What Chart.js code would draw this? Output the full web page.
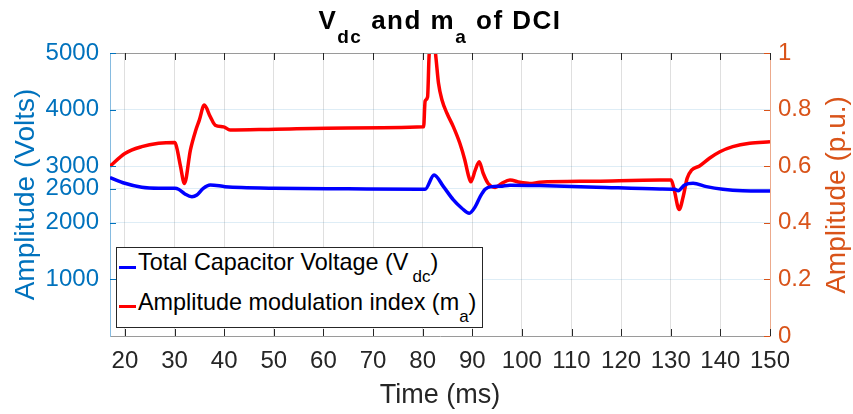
<!DOCTYPE html>
<html lang="en">

<head>
    <meta charset="UTF-8">
    <title>Vdc and ma of DCI</title>
    <script src="https://cdn.jsdelivr.net/npm/chart.js"></script>
    <style>
        body {
            margin: 0;
            background: #fff;
            font-family: "Liberation Sans", Arial, sans-serif;
        }

        .wrap {
            position: relative;
            width: 853px;
            height: 414px;
            overflow: hidden;
        }

        #chart {
            position: absolute;
            left: 0;
            top: 0;
        }

        .title {
            position: absolute;
            left: 110px;
            width: 660px;
            top: 7px;
            text-align: center;
            font-size: 26px;
            line-height: 26px;
            font-weight: bold;
            letter-spacing: 1.5px;
            color: #000;
            white-space: nowrap;
        }

        .title .sub {
            position: relative;
            top: 14px;
            font-size: 19px;
        }

        .ylab-right {
            position: absolute;
            left: 736px;
            top: 181px;
            width: 200px;
            height: 28px;
            line-height: 28px;
            font-size: 28px;
            text-align: center;
            color: #D95319;
            transform: rotate(-90deg);
            white-space: nowrap;
        }

        .legend {
            position: absolute;
            left: 116px;
            top: 247px;
            width: 367px;
            height: 81px;
            box-sizing: border-box;
            border: 1px solid #262626;
            background: #fff;
        }

        .legend .swatch {
            position: absolute;
            left: 2px;
            width: 17px;
            height: 3px;
        }

        .legend .txt {
            position: absolute;
            left: 21px;
            font-size: 23.4px;
            line-height: 23px;
            color: #000;
            white-space: nowrap;
        }

        .legend .sub {
            position: relative;
            top: 12px;
            font-size: 17px;
        }
    </style>
</head>

<body>
    <div class="wrap">
        <canvas id="chart" width="853" height="414"></canvas>
        <div class="title">V<span class="sub">dc</span> and m<span class="sub">a</span> of DCI</div>
        <div class="ylab-right">Amplitude (p.u.)</div>
        <div class="legend">
            <span class="swatch" style="top:18px;background:#0000ff"></span>
            <span class="txt" style="top:3px">Total Capacitor Voltage (V<span class="sub" style="margin-left:4px">dc</span>)</span>
            <span class="swatch" style="top:57px;background:#ff0000"></span>
            <span class="txt" style="top:43px">Amplitude modulation index (m<span class="sub">a</span>)</span>
        </div>
    </div>

    <script>
        // total capacitor voltage (V)
        const timeVdc = [17, 20, 23.4, 26.8, 30.1, 30.8, 32.1, 33.5, 34.5, 35.8, 37.2, 40.2, 43.5, 50, 65,
            79.5, 80.5, 82.3, 84.2, 86.2, 87.9, 89.4, 90.6, 91.6, 92.6, 93.9, 95.6, 97.6, 103.6, 115,
            127.8, 130.8, 131.5, 132.8, 134.5, 137.2, 140.5, 144.5, 150];
        const vdc = [2800, 2699, 2628, 2610, 2610, 2593, 2510, 2462, 2492, 2610, 2669, 2639, 2622, 2610, 2600,
            2593, 2593, 2846, 2639, 2404, 2257, 2168, 2285, 2462, 2593, 2639, 2645, 2665, 2657, 2630,
            2598, 2593, 2568, 2669, 2699, 2639, 2593, 2568, 2563];

        // amplitude modulation index (p.u.)
        const timeMa = [17, 20, 23.4, 26.8, 30.1, 30.5, 31.2, 32, 33.2, 34.3, 35, 36, 37.2, 38.2, 39.9, 41.2,
            50.3, 65, 80.2, 80.5, 81, 81.3, 81.7, 82.3, 82.7, 83.2, 83.9, 84.9, 86.2, 87.5, 88.5, 89.2,
            89.7, 90.6, 91.4, 92.2, 93.2, 94.6, 95.9, 97.6, 99.6, 101.6, 103.6, 115, 127.8, 130.1, 130.7,
            131.7, 132.5, 133.3, 134.2, 135.8, 137.8, 139.9, 142.5, 145.9, 150];
        const ma = [0.600, 0.645, 0.669, 0.681, 0.684, 0.662, 0.600, 0.539, 0.657, 0.728, 0.763, 0.816, 0.775, 0.745, 0.739, 0.728,
            0.731, 0.735, 0.739, 0.830, 0.845, 0.990, 1.040, 1.040, 0.980, 0.893, 0.834, 0.787, 0.739, 0.681, 0.622, 0.569,
            0.545, 0.586, 0.616, 0.575, 0.539, 0.525, 0.539, 0.551, 0.543, 0.539, 0.543, 0.547, 0.551, 0.551, 0.516,
            0.447, 0.492, 0.557, 0.586, 0.601, 0.628, 0.651, 0.669, 0.681, 0.686];

        const xTicks = [20, 30, 40, 50, 60, 70, 80, 90, 100, 110, 120, 130, 140, 150];
        const vdcTicks = [1000, 2000, 2600, 3000, 4000, 5000];
        const maTicks = [0, 0.2, 0.4, 0.6, 0.8, 1];

        const blue = '#0072BD';
        const orange = '#D95319';
        const dark = '#262626';

        Chart.defaults.font.family = '"Liberation Sans", Arial, sans-serif';

        // inward tick marks and the top box edge, like the original figure
        const boxTicks = {
            id: 'boxTicks',
            afterDraw(chart) {
                const { ctx, chartArea: a, scales } = chart;
                ctx.save();
                ctx.lineWidth = 1;
                ctx.strokeStyle = '#9a9a9a';
                ctx.beginPath();
                ctx.moveTo(a.left, a.top + 0.5);
                ctx.lineTo(a.right, a.top + 0.5);
                ctx.stroke();

                ctx.strokeStyle = dark;
                ctx.beginPath();
                xTicks.forEach(v => {
                    const px = Math.round(scales.x.getPixelForValue(v)) + 0.5;
                    ctx.moveTo(px, a.bottom);
                    ctx.lineTo(px, a.bottom - 7);
                    ctx.moveTo(px, a.top);
                    ctx.lineTo(px, a.top + 7);
                });
                ctx.stroke();

                ctx.strokeStyle = blue;
                ctx.beginPath();
                vdcTicks.forEach(v => {
                    const py = Math.round(scales.y.getPixelForValue(v)) + 0.5;
                    ctx.moveTo(a.left, py);
                    ctx.lineTo(a.left + 6, py);
                });
                ctx.stroke();

                ctx.strokeStyle = orange;
                ctx.beginPath();
                maTicks.forEach(v => {
                    const py = Math.round(scales.y1.getPixelForValue(v)) + 0.5;
                    ctx.moveTo(a.right, py);
                    ctx.lineTo(a.right - 6, py);
                });
                ctx.stroke();
                ctx.restore();
            }
        };

        const ctx = document.getElementById('chart').getContext('2d');
        const chart = new Chart(ctx, {
            type: 'line',
            data: {
                datasets: [{
                    label: 'Total Capacitor Voltage (Vdc)',
                    data: timeVdc.map((t, i) => ({ x: t, y: vdc[i] })),
                    yAxisID: 'y',
                    borderColor: '#0000ff',
                    borderWidth: 3.5,
                    pointRadius: 0,
                    cubicInterpolationMode: 'monotone',
                    clip: 0
                }, {
                    label: 'Amplitude modulation index (ma)',
                    data: timeMa.map((t, i) => ({ x: t, y: ma[i] })),
                    yAxisID: 'y1',
                    borderColor: '#ff0000',
                    borderWidth: 3.5,
                    pointRadius: 0,
                    cubicInterpolationMode: 'monotone',
                    clip: 0
                }]
            },
            options: {
                responsive: false,
                animation: false,
                layout: { padding: { top: 53, left: 0, right: 0, bottom: 0 } },
                plugins: {
                    legend: { display: false },
                    tooltip: { enabled: false },
                    title: { display: false }
                },
                scales: {
                    x: {
                        type: 'linear',
                        min: 17,
                        max: 150,
                        afterBuildTicks: s => { s.ticks = xTicks.map(v => ({ value: v })); },
                        afterFit: s => { s.height = 78; },
                        grid: { color: 'rgba(38,38,38,0.15)', drawTicks: false },
                        border: { color: '#9a9a9a', width: 1 },
                        ticks: {
                            color: dark, font: { size: 24 }, padding: 11, maxRotation: 0, autoSkip: false,
                            callback: v => String(v)
                        },
                        title: {
                            display: true,
                            text: 'Time (ms)',
                            color: dark,
                            font: { size: 27 },
                            padding: { top: 0, bottom: 2 }
                        }
                    },
                    y: {
                        position: 'left',
                        min: 0,
                        max: 5000,
                        afterBuildTicks: s => { s.ticks = vdcTicks.map(v => ({ value: v })); },
                        afterFit: s => { s.width = 110; },
                        grid: { color: 'rgba(0,114,189,0.13)', drawTicks: false },
                        border: { color: '#86bbe0', width: 1 },
                        ticks: {
                            color: blue, font: { size: 24 }, padding: 11, autoSkip: false,
                            callback: v => String(v)
                        },
                        title: {
                            display: true,
                            text: 'Amplitude (Volts)',
                            color: blue,
                            font: { size: 28 },
                            padding: { top: 9, bottom: 0 }
                        }
                    },
                    y1: {
                        position: 'right',
                        min: 0,
                        max: 1,
                        afterBuildTicks: s => { s.ticks = maTicks.map(v => ({ value: v })); },
                        afterFit: s => { s.width = 83; },
                        grid: { display: false, drawTicks: false },
                        border: { color: '#ecaa8c', width: 1 },
                        ticks: {
                            color: orange,
                            font: { size: 24 },
                            padding: 8,
                            autoSkip: false,
                            callback: v => String(+v.toFixed(1))
                        }
                    }
                }
            },
            plugins: [boxTicks]
        });
    </script>
</body>

</html>
